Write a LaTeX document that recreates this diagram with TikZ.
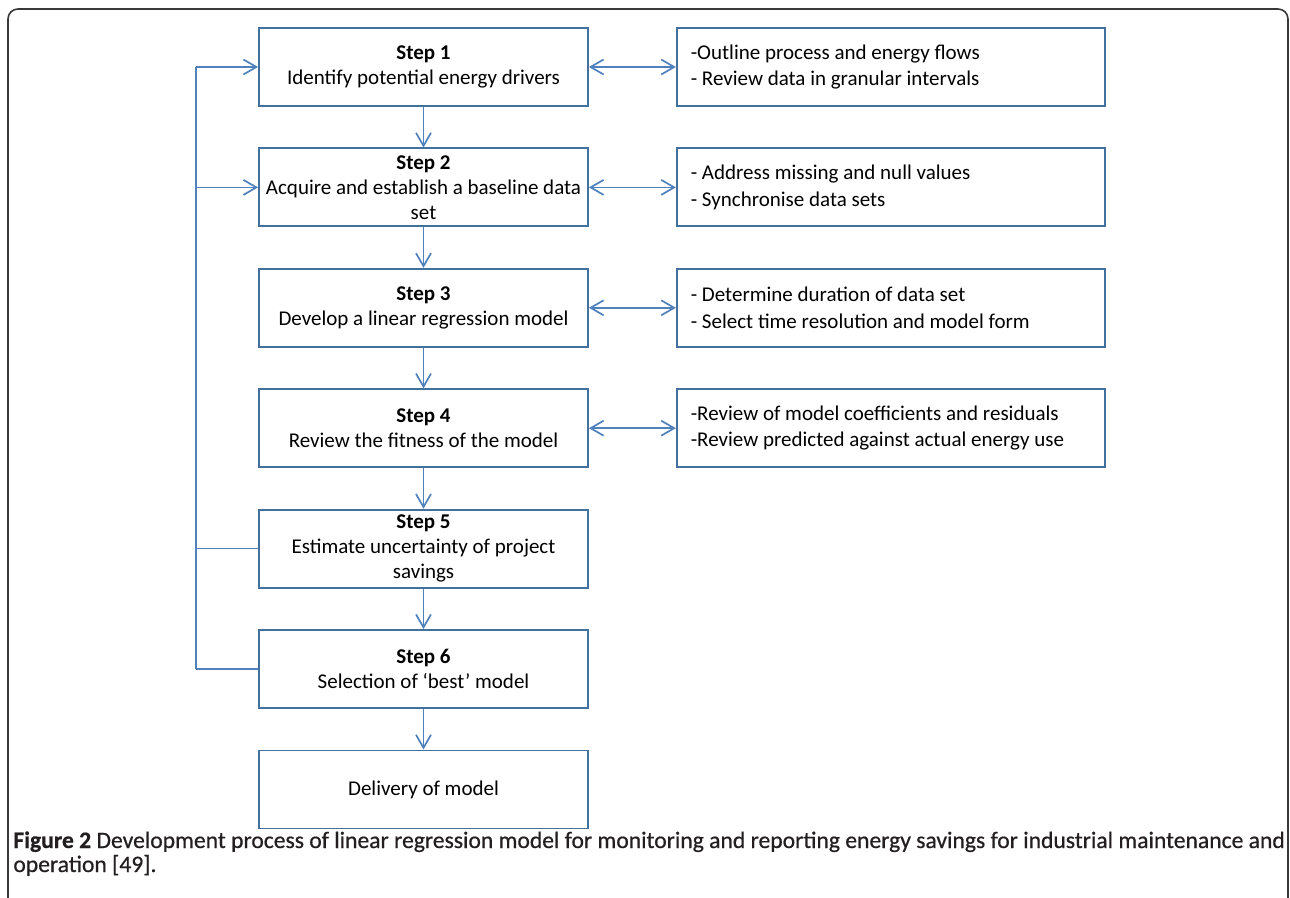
\documentclass[tikz,border=0pt]{standalone}
\usepackage{fontspec}
\setmainfont{Carlito}
\newfontfamily\capsemi{Carlito}[FakeBold=0.6]
\usetikzlibrary{positioning}
\usetikzlibrary{arrows.meta}
\definecolor{flowblue}{HTML}{4F81BD}
\definecolor{boxblue}{HTML}{41719C}
\definecolor{framegray}{HTML}{3A3A3A}
\definecolor{captext}{HTML}{231F20}
\tikzset{
    stepbox/.style={draw=boxblue, line width=0.9pt, minimum width=164.5pt, minimum height=39pt,
        inner sep=0pt, align=center, font=\fontsize{10.5}{12.5}\selectfont},
    notebox/.style={draw=boxblue, line width=0.9pt, text width=200pt, minimum height=39pt,
        inner xsep=7pt, inner ysep=0pt, align=flush left, font=\fontsize{10.5}{13.3}\selectfont},
    flow/.style={flowblue, line width=0.85pt, -{Straight Barb[length=6.5pt,width=7.5pt]}},
    twoway/.style={flowblue, line width=0.85pt, {Straight Barb[length=6.5pt,width=7.5pt]}-{Straight Barb[length=6.5pt,width=7.5pt]}},
    link/.style={flowblue, line width=0.85pt},
    caption/.style={inner sep=0pt, text=captext, font=\capsemi\fontsize{11.8}{12}\selectfont}
}
\begin{document}
\begin{tikzpicture}[node distance=20.3pt]
            \useasboundingbox (0,0) rectangle (645pt,-449pt);

            % Frame
            \draw[framegray, line width=0.8pt, rounded corners=5pt] (4pt,-460pt) -- (4pt,-4.5pt) -- (644pt,-4.5pt) -- (644pt,-460pt);

            % Steps
            \node[stepbox] (step1) at (211.75pt,-33.5pt) {\textbf{Step 1}\\Identify potential energy drivers};
            \node[stepbox, below=of step1] (step2) {\textbf{Step 2}\\Acquire and establish a baseline data\\set};
            \node[stepbox, below=of step2] (step3) {\textbf{Step 3}\\Develop a linear regression model};
            \node[stepbox, below=of step3] (step4) {\textbf{Step 4}\\Review the fitness of the model};
            \node[stepbox, below=of step4] (step5) {\textbf{Step 5}\\Estimate uncertainty of project\\savings};
            \node[stepbox, below=of step5] (step6) {\textbf{Step 6}\\Selection of `best' model};
            \node[stepbox, below=of step6] (delivery) {Delivery of model};

            % Notes
            \node[notebox, right=43.5pt of step1] (note1) {-Outline process and energy flows\\- Review data in granular intervals};
            \node[notebox, right=43.5pt of step2] (note2) {- Address missing and null values\\- Synchronise data sets};
            \node[notebox, right=43.5pt of step3] (note3) {- Determine duration of data set\\- Select time resolution and model form};
            \node[notebox, right=43.5pt of step4] (note4) {-Review of model coefficients and residuals\\-Review predicted against actual energy use};

            % Main flow
            \draw[flow] (step1) -- (step2);
            \draw[flow] (step2) -- (step3);
            \draw[flow] (step3) -- (step4);
            \draw[flow] (step4) -- (step5);
            \draw[flow] (step5) -- (step6);
            \draw[flow] (step6) -- (delivery);

            % Notes links
            \draw[twoway] (step1) -- (note1);
            \draw[twoway] (step2) -- (note2);
            \draw[twoway] (step3) -- (note3);
            \draw[twoway] (step4) -- (note4);

            % Feedback bus
            \coordinate[left=31pt of step1.west] (bus1);
            \coordinate (bus2) at (bus1 |- step2.west);
            \coordinate (bus5) at (bus1 |- step5.west);
            \coordinate (bus6) at (bus1 |- step6.west);
            \draw[link] (bus6) -- (bus1);
            \draw[link] (step5.west) -- (bus5);
            \draw[link] (step6.west) -- (bus6);
            \draw[flow] (bus1) -- (step1.west);
            \draw[flow] (bus2) -- (step2.west);

            % Caption
            \node[caption, anchor=base west] (cap1) at (6.5pt,-424pt) {\textbf{Figure 2} Development process of linear regression model for monitoring and reporting energy savings for industrial maintenance and};
            \node[caption, anchor=base west] (cap2) at ([yshift=-12pt]cap1.base west) {operation [49].};

        \end{tikzpicture}
\end{document}
